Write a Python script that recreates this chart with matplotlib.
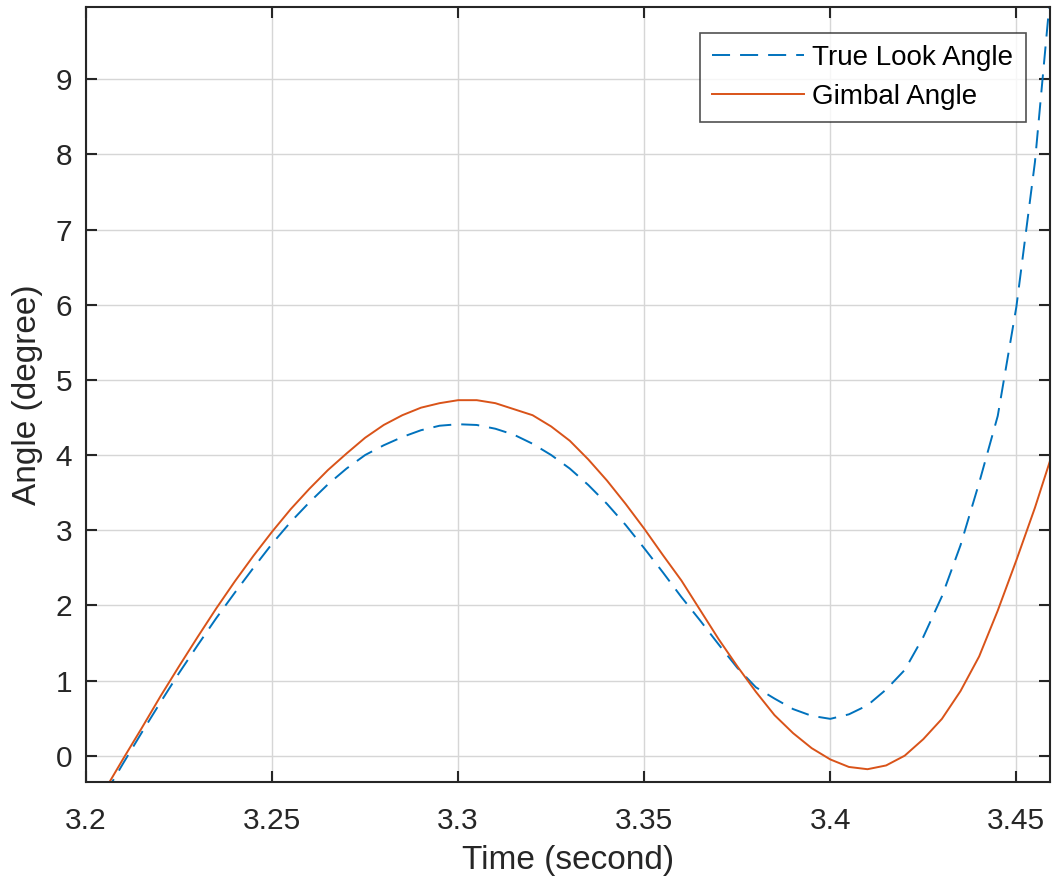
import numpy as np
import matplotlib.pyplot as plt

# samples every 5 ms
time = np.round(np.arange(3.205, 3.4601, 0.005), 3)

true_look = [-0.52, -0.10, 0.31, 0.71, 1.10, 1.47, 1.83, 2.17, 2.50, 2.82,
             3.11, 3.37, 3.61, 3.82, 4.00, 4.13, 4.24, 4.33, 4.39, 4.41,
             4.40, 4.35, 4.27, 4.15, 4.00, 3.82, 3.60, 3.35, 3.07, 2.76,
             2.44, 2.11, 1.80, 1.48, 1.17, 0.91, 0.76, 0.62, 0.53, 0.49,
             0.55, 0.67, 0.88, 1.14, 1.58, 2.12, 2.80, 3.63, 4.52, 5.97,
             7.90, 10.60]

gimbal = [-0.46, -0.04, 0.37, 0.79, 1.19, 1.58, 1.96, 2.32, 2.66, 2.98,
          3.28, 3.55, 3.80, 4.02, 4.23, 4.40, 4.53, 4.63, 4.69, 4.73,
          4.73, 4.69, 4.61, 4.53, 4.38, 4.19, 3.94, 3.66, 3.35, 3.02,
          2.67, 2.33, 1.94, 1.55, 1.19, 0.85, 0.54, 0.30, 0.10, -0.05,
          -0.15, -0.18, -0.13, 0.00, 0.22, 0.49, 0.86, 1.32, 1.93, 2.60,
          3.30, 4.07]

xticks = [3.2, 3.25, 3.3, 3.35, 3.4, 3.45]
xticklabels = ['3.2', '3.25', '3.3', '3.35', '3.4', '3.45']
yticks = list(range(0, 10))

plt.rcParams['font.family'] = ['Liberation Sans', 'DejaVu Sans']
plt.rcParams['lines.scale_dashes'] = False

axis_col = '#262626'

fig = plt.figure(figsize=(10.53, 8.86), dpi=100)
ax = fig.add_axes([0.0817, 0.1174, 0.997 - 0.0817, 0.992 - 0.1174])

ax.plot(time, true_look, color='#0072BD', lw=1.4, dashes=(13, 7.2),
        label='True Look Angle')
ax.plot(time, gimbal, color='#D95319', lw=1.4, label='Gimbal Angle')

ax.set_xlim(3.2, 3.459)
ax.set_ylim(-0.35, 9.96)
ax.set_xticks(xticks)
ax.set_xticklabels(xticklabels)
ax.set_yticks(yticks)

ax.grid(True, color='#d6d6d6', lw=1.0)
ax.set_axisbelow(True)
ax.tick_params(direction='in', length=8, width=1.5, colors=axis_col,
               top=True, right=True, labelsize=21.5)
ax.tick_params(axis='x', pad=18)
ax.tick_params(axis='y', pad=10)
for s in ax.spines.values():
    s.set_color(axis_col)
    s.set_linewidth(1.5)

ax.set_xlabel('Time (second)', fontsize=24, color=axis_col, labelpad=7)
ax.set_ylabel('Angle (degree)', fontsize=24, color=axis_col, labelpad=9)

leg = ax.legend(loc='upper right', bbox_to_anchor=(0.975, 0.967),
                fontsize=20, frameon=True, fancybox=False,
                handlelength=3.3, handletextpad=0.3, borderpad=0.45,
                labelspacing=0.45, borderaxespad=0)
leg.get_frame().set_edgecolor(axis_col)
leg.get_frame().set_linewidth(1.2)

fig.savefig('out.png', dpi=100, facecolor='white')
